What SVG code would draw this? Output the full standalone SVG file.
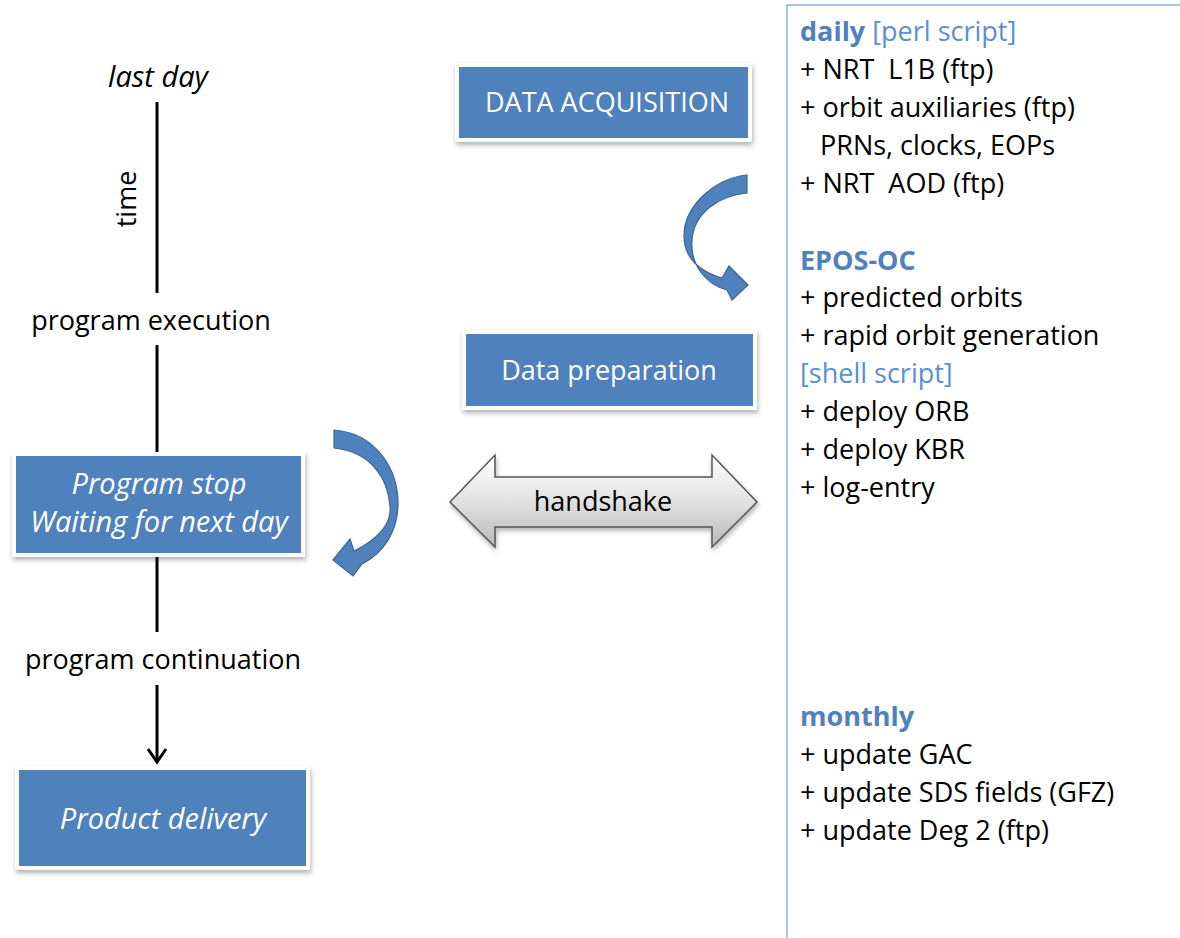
<svg xmlns="http://www.w3.org/2000/svg" width="1180" height="938" viewBox="0 0 1180 938">
<style>
  text { font-family: "Open Sans", "Liberation Sans", sans-serif; font-size: 27px; }
  .lbl { fill: #000; text-anchor: middle; }
  .box { fill: #4F81BD; stroke: #FFFFFF; stroke-width: 4; filter: url(#sh); }
  .btxt { fill: #FFFFFF; text-anchor: middle; }
  .it { font-style: italic; font-size: 29px; }
  .line { stroke: #000; stroke-width: 3; fill: none; }
  .panel { fill: #000; }
  .hd { fill: #4F81BD; font-weight: bold; }
  .br { fill: #5B8FD3; }
  .curve { fill: #4F81BD; stroke: #3B6596; stroke-width: 1.2; }
</style>
<defs>
  <filter id="sh" x="-10%" y="-20%" width="120%" height="150%">
    <feDropShadow dx="1" dy="3" stdDeviation="2.5" flood-color="#000" flood-opacity="0.3"/>
  </filter>
  <linearGradient id="hg" x1="0" y1="0" x2="0" y2="1">
    <stop offset="0" stop-color="#FFFFFF"/>
    <stop offset="0.5" stop-color="#E2E2E2"/>
    <stop offset="1" stop-color="#B8B8B8"/>
  </linearGradient>
</defs>
<rect width="1180" height="938" fill="#FFFFFF"/>

<g id="connectors">
  <line class="line" x1="157" y1="102" x2="157" y2="293"/>
  <line class="line" x1="157" y1="345" x2="157" y2="452"/>
  <line class="line" x1="157" y1="557" x2="157" y2="632"/>
  <line class="line" x1="157" y1="685" x2="157" y2="760"/>
  <path class="line" d="M148,749 L157,762 L166,749"/>
  <path id="curve-top" class="curve" d="M747,175 C716,178 684,205 684,236 C684,258 700,272 722,278 L729,266 L748,285 L732,300 L727,290 C705,284 690,264 692,240 C694,213 718,196 747,193 Z"/>
  <path id="curve-left" class="curve" d="M334,430 C376,433 399,470 398,506 C397,531 385,552 362,564 L353,576 L333,560 L350,539 L354,551 C376,540 392,526 390,506 C388,478 371,452 334,448 Z"/>
  <g id="handshake">
    <polygon points="450,502 495,455 495,477 712,477 712,455 757,502 712,547 712,527 495,527 495,547" fill="url(#hg)" stroke="#555555" stroke-width="1.5" filter="url(#sh)"/>
    <text class="lbl" x="603" y="511">handshake</text>
  </g>
</g>

<g id="timeline-labels">
  <text class="lbl it" x="158" y="87">last day</text>
  <text class="lbl" transform="translate(136,199) rotate(-90)">time</text>
  <text class="lbl" x="151" y="330">program execution</text>
  <text class="lbl" x="163" y="669">program continuation</text>
</g>

<g id="program-stop">
  <rect class="box" x="14" y="454" width="289" height="101"/>
  <text class="btxt it" x="159" y="494">Program stop</text>
  <text class="btxt it" x="159" y="532">Waiting for next day</text>
</g>

<g id="product-delivery">
  <rect class="box" x="17" y="768" width="291" height="100"/>
  <text class="btxt it" x="163" y="829">Product delivery</text>
</g>

<g id="data-acquisition">
  <rect class="box" x="457" y="65" width="293" height="75"/>
  <text class="btxt" x="607" y="112">DATA ACQUISITION</text>
</g>

<g id="data-preparation">
  <rect class="box" x="464" y="332" width="291" height="76"/>
  <text class="btxt" x="609" y="380">Data preparation</text>
</g>

<g id="panel">
  <path d="M787,938 L787,5 L1182,5" fill="none" stroke="#8DB3E2" stroke-width="1.5"/>
  <text x="800" y="41"><tspan class="hd">daily</tspan><tspan class="br"> [perl script]</tspan></text>
  <text class="panel" x="800" y="79" xml:space="preserve">+ NRT  L1B (ftp)</text>
  <text class="panel" x="800" y="117">+ orbit auxiliaries (ftp)</text>
  <text class="panel" x="820" y="155">PRNs, clocks, EOPs</text>
  <text class="panel" x="800" y="193" xml:space="preserve">+ NRT  AOD (ftp)</text>
  <text class="hd" x="800" y="270">EPOS-OC</text>
  <text class="panel" x="800" y="307">+ predicted orbits</text>
  <text class="panel" x="800" y="345">+ rapid orbit generation</text>
  <text class="br" x="800" y="383">[shell script]</text>
  <text class="panel" x="800" y="421">+ deploy ORB</text>
  <text class="panel" x="800" y="459">+ deploy KBR</text>
  <text class="panel" x="800" y="497">+ log-entry</text>
  <text class="hd" x="800" y="726">monthly</text>
  <text class="panel" x="800" y="764">+ update GAC</text>
  <text class="panel" x="800" y="802">+ update SDS fields (GFZ)</text>
  <text class="panel" x="800" y="840">+ update Deg 2 (ftp)</text>
</g>
</svg>
